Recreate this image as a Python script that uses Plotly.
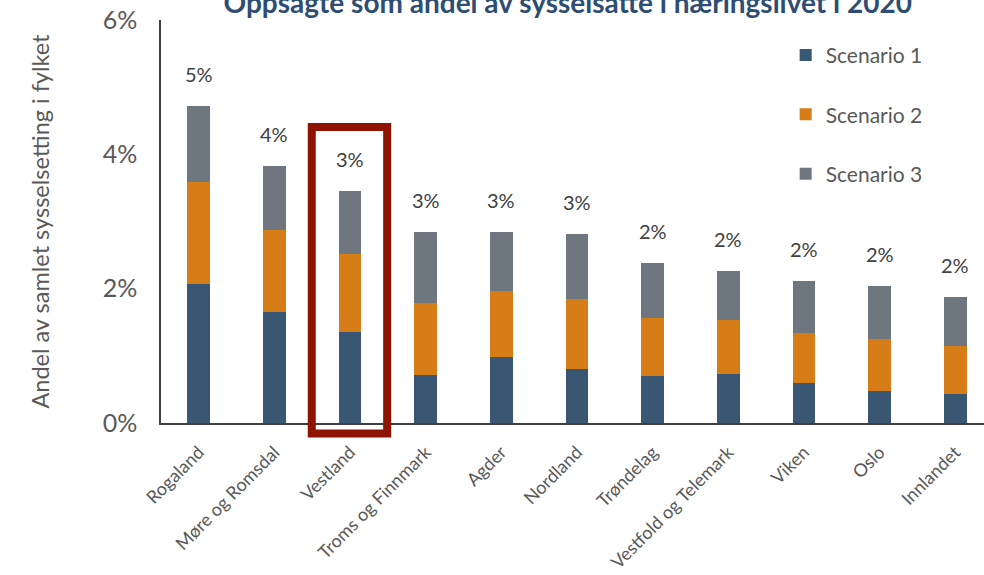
import plotly.graph_objects as go

categories = ["Rogaland", "Møre og Romsdal", "Vestland", "Troms og Finnmark", "Agder",
              "Nordland", "Trøndelag", "Vestfold og Telemark", "Viken", "Oslo", "Innlandet"]
scenario1 = [2.07, 1.65, 1.35, 0.72, 0.99, 0.81, 0.70, 0.73, 0.60, 0.48, 0.43]
scenario2 = [1.52, 1.23, 1.17, 1.07, 0.98, 1.04, 0.87, 0.80, 0.74, 0.77, 0.72]
scenario3 = [1.13, 0.95, 0.94, 1.06, 0.87, 0.96, 0.81, 0.74, 0.77, 0.79, 0.72]
total_labels = ["5%", "4%", "3%", "3%", "3%", "3%", "2%", "2%", "2%", "2%", "2%"]
series_names = ["Scenario 1", "Scenario 2", "Scenario 3"]
colors = ["#395673", "#D67D17", "#6E7780"]
y_ticks = [0, 2, 4, 6]
y_tick_text = ["0%", "2%", "4%", "6%"]

FONT = "Lato"
GRAY = "#595959"

fig = go.Figure()
for name, vals, col in zip(series_names, [scenario1, scenario2, scenario3], colors):
    fig.add_trace(go.Bar(
        x=categories, y=vals, name=name, legendgroup=name,
        marker=dict(color=col, line=dict(width=0)),
        width=0.3,
    ))

totals = [a + b + c for a, b, c in zip(scenario1, scenario2, scenario3)]
for cat, tot, lab in zip(categories, totals, total_labels):
    fig.add_annotation(x=cat, y=tot, text=lab, showarrow=False, yanchor="bottom",
                       yshift=18, font=dict(family=FONT, size=20, color="#404040"))

# highlight box around Vestland
fig.add_shape(type="rect", xref="x", yref="paper",
              x0=1.493, x1=2.49, y0=-0.026, y1=0.7345,
              line=dict(color="#8E1300", width=8), fillcolor="rgba(0,0,0,0)", layer="above")

fig.update_layout(
    width=984, height=575,
    margin=dict(l=161, r=0, t=20, b=152, autoexpand=False),
    paper_bgcolor="white", plot_bgcolor="white",
    barmode="stack",
    font=dict(family=FONT, color=GRAY),
    title=dict(text="<b>Oppsagte som andel av sysselsatte i næringslivet i 2020</b>",
               x=0.577, xanchor="center", y=0.995, yanchor="middle", yref="container",
               font=dict(family=FONT, size=28, color="#2E4D74")),
    legend=dict(x=0.759, xanchor="left", y=0.963, yanchor="top",
                traceorder="grouped", tracegroupgap=29,
                font=dict(family=FONT, size=21, color=GRAY),
                bgcolor="rgba(0,0,0,0)"),
    xaxis=dict(range=[-0.5, 10.38], showgrid=False, showline=True, linecolor="#404040",
               linewidth=1.5, ticks="", tickangle=-45, ticklabelstandoff=10,
               tickfont=dict(family=FONT, size=18, color=GRAY)),
    yaxis=dict(range=[0, 6], tickvals=y_ticks, ticktext=y_tick_text, showgrid=False,
               showline=True, linecolor="#404040", linewidth=1.5, ticks="",
               zeroline=False, ticklabelstandoff=17,
               tickfont=dict(family=FONT, size=25, color=GRAY),
               title=dict(text="Andel av samlet sysselsetting i fylket", standoff=46,
                          font=dict(family=FONT, size=23.5, color=GRAY))),
)

fig.write_html("out.html", config={"displayModeBar": False},
               post_script="document.body.style.margin='0';")
